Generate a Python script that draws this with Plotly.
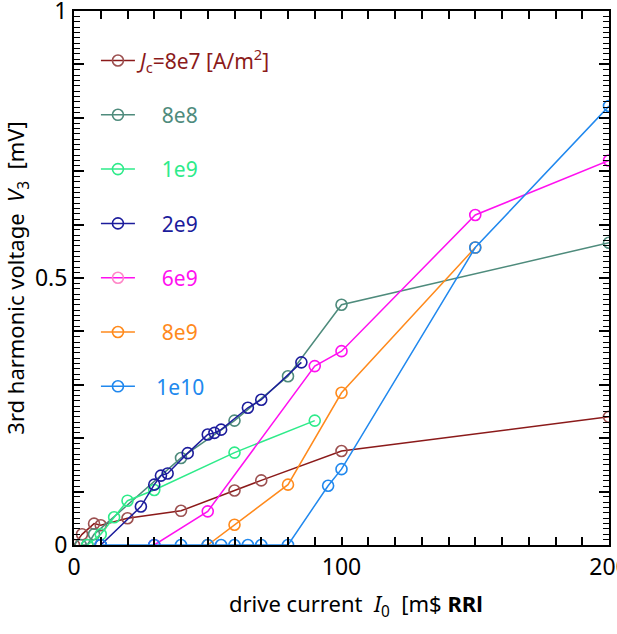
import plotly.graph_objects as go

# ---- data ----
x_8e7 = [0, 3, 7.5, 10, 20, 40, 60, 70, 100, 200]
y_8e7 = [0.0, 0.02, 0.04, 0.037, 0.05, 0.064, 0.102, 0.121, 0.176, 0.24]

x_8e8 = [2.5, 5, 7.5, 40, 60, 80, 100, 200]
y_8e8 = [0.0, 0.0, 0.02, 0.163, 0.233, 0.316, 0.45, 0.566]

x_1e9 = [5, 10, 15, 20, 30, 60, 90]
y_1e9 = [0.0, 0.02, 0.052, 0.083, 0.103, 0.173, 0.233]

x_2e9 = [10, 25, 30, 32.5, 35, 42.5, 50, 52.5, 55, 65, 70, 85]
y_2e9 = [0.0, 0.072, 0.113, 0.13, 0.134, 0.172, 0.207, 0.21, 0.216, 0.257, 0.272, 0.342]

x_6e9 = [30, 50, 90, 100, 150, 200]
y_6e9 = [0.0, 0.063, 0.335, 0.363, 0.618, 0.72]

x_8e9 = [50, 60, 80, 100, 150]
y_8e9 = [0.0, 0.038, 0.113, 0.285, 0.557]

x_1e10 = [10, 30, 40, 50, 55, 60, 65, 70, 80, 95, 100, 150, 200]
y_1e10 = [0, 0, 0, 0, 0, 0, 0, 0, 0, 0.111, 0.142, 0.557, 0.822]

labels = ["8e7", "8e8", "1e9", "2e9", "6e9", "8e9", "1e10"]
xs = [x_8e7, x_8e8, x_1e9, x_2e9, x_6e9, x_8e9, x_1e10]
ys = [y_8e7, y_8e8, y_1e9, y_2e9, y_6e9, y_8e9, y_1e10]

line_colors = ["#8B1A1A", "#4E8B7C", "#2EEB8A", "#1C1C9C", "#FF10F0", "#FF8A1C", "#2088EE"]
marker_colors = ["#9C5050", "#4E8B7C", "#2EEB8A", "#1C1C9C", "#FF10F0", "#FF8A1C", "#2088EE"]
legend_marker_colors = ["#9C5050", "#4E8B7C", "#2EEB8A", "#1C1C9C", "#FF88C8", "#FF8A1C", "#2088EE"]

FONT = "Noto Sans"
NB = "\u00a0"
x_title = "drive current" + NB * 2 + "<i>I</i><sub>0</sub>" + NB * 2 + "[m$ <b>RRl</b>"
y_title = "3rd harmonic voltage" + NB * 2 + "<i>V</i><sub>3</sub>" + NB * 2 + "[mV]"

fig = go.Figure()
for i, (lab, x, y) in enumerate(zip(labels, xs, ys)):
    if i == 0:
        name = (f'<span style="color:{line_colors[i]}"><i>J</i><sub>c</sub>=' + lab +
                ' [A/m<sup>2</sup>]</span>')
    else:
        pad = NB * (4 if len(lab) == 3 else 3)
        name = f'<span style="color:{line_colors[i]}">{pad}{lab}</span>'
    fig.add_trace(go.Scatter(
        x=x, y=y, mode="lines+markers", name=name,
        legendgroup=lab, showlegend=False,
        line=dict(color=line_colors[i], width=1.5),
        marker=dict(symbol="circle-open", size=11, color=marker_colors[i],
                    line=dict(width=1.6, color=marker_colors[i])),
    ))
    fig.add_trace(go.Scatter(
        x=[None], y=[None], mode="lines+markers", name=name,
        legendgroup=lab, showlegend=True,
        line=dict(color=line_colors[i], width=1.5),
        marker=dict(symbol="circle-open", size=11, color=legend_marker_colors[i],
                    line=dict(width=1.6, color=legend_marker_colors[i])),
    ))

# invisible trace anchoring the secondary tick axes
fig.add_trace(go.Scatter(x=[None], y=[None], xaxis="x2", yaxis="y2",
                         showlegend=False, hoverinfo="skip"))

fig.update_layout(
    width=617, height=634,
    margin=dict(l=74, r=8, t=11, b=89, autoexpand=False),
    paper_bgcolor="white", plot_bgcolor="white",
    font=dict(family=FONT, color="black"),
    showlegend=True,
    legend=dict(
        x=0.041, y=0.945, xanchor="left", yanchor="top",
        bgcolor="rgba(0,0,0,0)", borderwidth=0,
        font=dict(family=FONT, size=21),
        tracegroupgap=24, itemwidth=34,
    ),
    xaxis=dict(
        range=[0, 200], tickmode="linear", tick0=0, dtick=100,
        ticks="inside", ticklen=8, tickwidth=1.5, tickcolor="black",
        minor=dict(tickmode="linear", tick0=0, dtick=10, ticks="inside", ticklen=8,
                   tickwidth=1.5, tickcolor="black"),
        showline=True, linecolor="black", linewidth=2, mirror="ticks",
        showgrid=False, zeroline=False, ticklabeloverflow="allow", automargin=False,
        tickfont=dict(family=FONT, size=23),
    ),
    yaxis=dict(
        range=[0, 1], tickmode="linear", tick0=0, dtick=0.5,
        ticks="inside", ticklen=10, tickwidth=1.5, tickcolor="black",
        minor=dict(tickmode="linear", tick0=0, dtick=0.01, ticks="inside", ticklen=6,
                   tickwidth=1.2, tickcolor="black"),
        showline=True, linecolor="black", linewidth=2, mirror="ticks",
        showgrid=False, zeroline=False, ticklabeloverflow="allow", automargin=False,
        tickfont=dict(family=FONT, size=23),
        title=dict(text=y_title, font=dict(family=FONT, size=22), standoff=4),
    ),
    xaxis2=dict(range=[0, 200], overlaying="x", side="bottom", anchor="y2",
                showticklabels=False, ticks="", showgrid=False, zeroline=False,
                showline=False, automargin=False),
    yaxis2=dict(range=[0, 1], overlaying="y", side="left", anchor="x2",
                tickmode="linear", tick0=0, dtick=0.1, showticklabels=False,
                ticks="inside", ticklen=10, tickwidth=1.5, tickcolor="black",
                showline=True, linecolor="black", linewidth=2, mirror="ticks",
                showgrid=False, zeroline=False, automargin=False),
    annotations=[dict(text=x_title, xref="paper", yref="paper", x=0.528, y=-0.113,
                      xanchor="center", yanchor="middle", showarrow=False,
                      font=dict(family=FONT, size=22, color="black"))],
)

fig.write_html("out.html")
